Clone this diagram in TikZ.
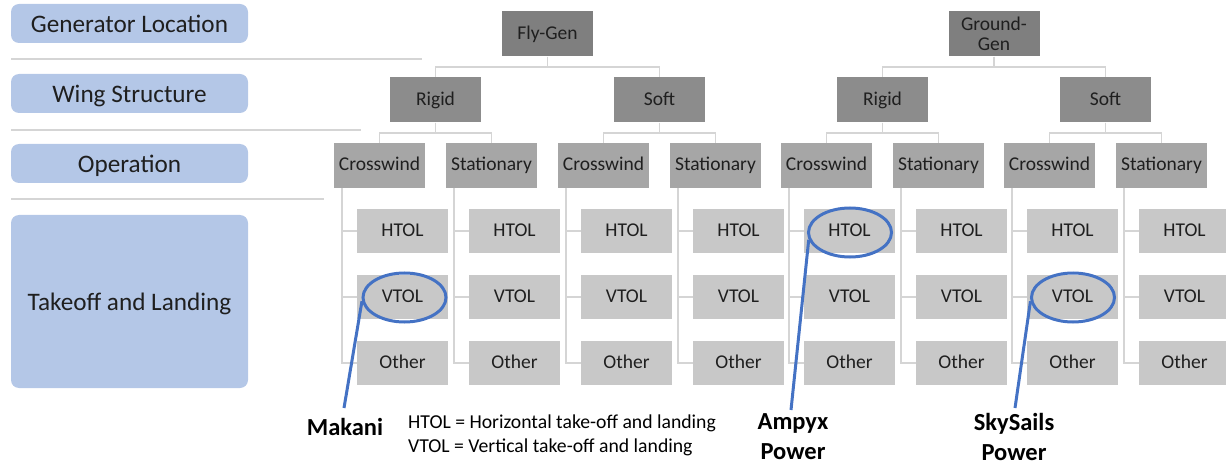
\documentclass[tikz,border=0pt]{standalone}
\usepackage{fontspec}
\setmainfont{Carlito}
\usetikzlibrary{shapes.geometric,calc}
\definecolor{lblue}{HTML}{B4C7E7}
\definecolor{gA}{HTML}{7F7F7F}
\definecolor{gB}{HTML}{8C8C8C}
\definecolor{gC}{HTML}{A6A6A6}
\definecolor{gD}{HTML}{C8C8C8}
\definecolor{connc}{HTML}{D5D5D5}
\definecolor{accent}{HTML}{4472C4}
\definecolor{txt}{HTML}{1F1F1F}
\begin{document}
\begin{tikzpicture}[x=1pt,y=-1pt,
  lvlbox/.style={rounded corners=8pt, fill=lblue, minimum width=237pt, inner sep=0pt, font=\fontsize{25.2}{28}\selectfont, text=txt, text height=21pt, text depth=2.6pt},
  gbox/.style={minimum width=91pt, minimum height=45pt, inner sep=0pt, font=\fontsize{19.5}{20}\selectfont, text=txt, align=center, text height=14.5pt, text depth=3.5pt},
  topbox/.style={gbox, fill=gA},
  wingbox/.style={gbox, fill=gB},
  opbox/.style={gbox, fill=gC},
  leafbox/.style={gbox, fill=gD, minimum height=44pt},
  conn/.style={draw=connc, line width=1.6pt},
  sepline/.style={draw=connc, line width=1.4pt},
  hilite/.style={ellipse, draw=accent, line width=3pt, minimum width=83pt, minimum height=49pt, inner sep=0pt},
  callout/.style={draw=accent, line width=3pt},
  company/.style={font=\bfseries\fontsize{24.5}{30}\selectfont, align=center, text=black, inner sep=0pt},
  legend/.style={font=\fontsize{19.7}{23}\selectfont, anchor=base west, inner sep=0pt, text=black}
]
\useasboundingbox (0,0) rectangle (1226,465);

% level labels
\node[lvlbox, minimum height=39pt] (l1) at (129.5,23.5) {Generator Location};
\node[lvlbox, minimum height=39pt] (l2) at (129.5,93.5) {Wing Structure};
\node[lvlbox, minimum height=39pt] (l3) at (129.5,163.5) {Operation};
\node[lvlbox, minimum height=173pt] (l4) at (129.5,301.5) {Takeoff and Landing};
\draw[sepline] (11,59) -- (422,59);
\draw[sepline] (11,130) -- (361,130);
\draw[sepline] (11,199) -- (324,199);

% generator location
\node[topbox] (fg) at (547.5,34) {Fly-Gen};
\node[topbox, text height=, text depth=] (gg) at (994,34) {Ground-\\Gen};
% wing structure
\node[wingbox] (fgR) at (435.5,100) {Rigid};
\node[wingbox] (fgS) at (659.5,100) {Soft};
\node[wingbox] (ggR) at (882.5,100) {Rigid};
\node[wingbox] (ggS) at (1105.5,100) {Soft};
\foreach \p/\c in {fg/fgR, fg/fgS, gg/ggR, gg/ggS}
  \draw[conn] (\p.south) -- ++(0,10.5) -| (\c.north);

% operation and takeoff
\foreach \i/\x/\t in {1/379.5/Crosswind, 2/491.5/Stationary, 3/603.5/Crosswind, 4/715.5/Stationary,
                      5/826.5/Crosswind, 6/938.5/Stationary, 7/1049.5/Crosswind, 8/1161.5/Stationary} {
  \node[opbox] (o\i) at (\x,165.5) {\t};
  \foreach \j/\y/\l in {h/231/HTOL, v/297/VTOL, o/363/Other} {
    \node[leafbox] (o\i\j) at (\x+23,\y) {\l};
    \draw[conn] ([xshift=8pt]o\i.south west) |- (o\i\j.west);
  }
}
\foreach \p/\c in {fgR/o1, fgR/o2, fgS/o3, fgS/o4, ggR/o5, ggR/o6, ggS/o7, ggS/o8}
  \draw[conn] (\p.south) -- ++(0,10.5) -| (\c.north);

% highlights
\node[hilite] (mkE) at (404.5,297.5) {};
\node[hilite] (apE) at (850,232.5) {};
\node[hilite] (ssE) at (1073,297.5) {};
\coordinate (mkT) at (344,408);
\coordinate (apT) at (791,410);
\coordinate (ssT) at (1015,408);
\draw[callout] (mkE.185) -- (mkT);
\draw[callout] (apE.190) -- (apT);
\draw[callout] (ssE.185) -- (ssT);

\node[company, anchor=base] (mk) at (345,435) {Makani};
\node[company] (ap) at (793,437) {Ampyx\\Power};
\node[company] (ss) at (1014,437) {SkySails\\Power};

\node[legend] (lg1) at (408,428) {HTOL = Horizontal take-off and landing};
\node[legend] (lg2) at (408,452) {VTOL = Vertical take-off and landing};
\end{tikzpicture}
\end{document}
